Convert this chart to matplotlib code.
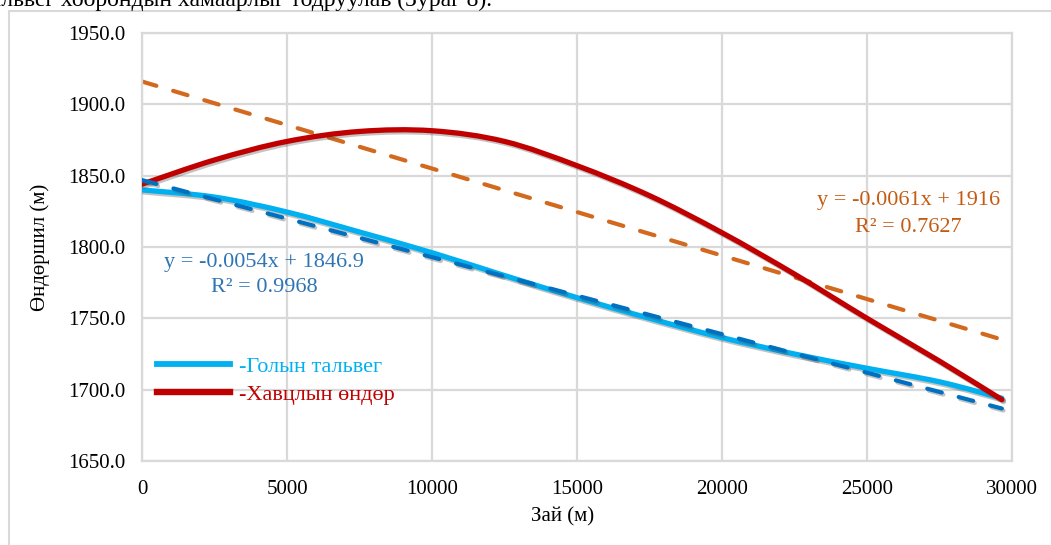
import numpy as np
import matplotlib
matplotlib.use("Agg")
import matplotlib.pyplot as plt
import matplotlib.patches as mpatches
import matplotlib.lines as mlines
import matplotlib.patheffects as pe
from matplotlib.path import Path

plt.rcParams['font.family'] = ['Liberation Serif', 'DejaVu Serif']

# distance along the river (m)
dist = [0, 2500, 5000, 7500, 10000, 12500, 15000, 17500, 20000, 22500, 25000, 27500, 29650]
# thalweg elevation (m)
thalweg = [1840, 1835, 1824.5, 1810.5, 1796, 1780, 1764.5, 1750, 1736.5, 1725, 1715, 1705.5, 1694]
# canyon rim elevation (m)
canyon = [1844, 1861, 1874, 1881, 1881.5, 1874, 1857, 1836, 1810, 1781, 1750, 1720, 1693]

# linear trend lines shown on the chart
trend_slope = {'thalweg': -0.0054, 'canyon': -0.0061}
trend_icpt = {'thalweg': 1846.9, 'canyon': 1916}
eq_text = {'thalweg': ['y = -0.0054x + 1846.9', 'R² = 0.9968'],
           'canyon': ['y = -0.0061x + 1916', 'R² = 0.7627']}

labels = ['-Голын тальвег', '-Хавцлын өндөр']
xticks = [0, 5000, 10000, 15000, 20000, 25000, 30000]
yticks = [1650, 1700, 1750, 1800, 1850, 1900, 1950]


def smooth_path(x, y):
    # Excel style "smoothed line": Catmull-Rom segments drawn as cubic Bezier curves
    p = np.column_stack([x, y]).astype(float)
    n = len(p)
    verts = [p[0]]
    codes = [Path.MOVETO]
    for i in range(n - 1):
        p0 = p[i - 1] if i > 0 else p[i]
        p3 = p[i + 2] if i + 2 < n else p[i + 1]
        c1 = p[i] + (p[i + 1] - p0) / 6.0
        c2 = p[i + 1] - (p3 - p[i]) / 6.0
        verts += [c1, c2, p[i + 1]]
        codes += [Path.CURVE4] * 3
    return Path(verts, codes)


W, H = 1051, 545
fig = plt.figure(figsize=(W / 100, H / 100), dpi=100)
ax = fig.add_axes([142 / W, 1 - 461 / H, 870 / W, 428 / H])

grid_c = '#D9D9D9'
shadow = [pe.SimpleLineShadow(offset=(1.2, -1.5), alpha=0.35, shadow_color='#555555'), pe.Normal()]

lb = '#00B0F0'
red = '#C00000'
orange = '#D2691E'
dblue = '#0070C0'

ax.add_patch(mpatches.PathPatch(smooth_path(dist, thalweg), fill=False, edgecolor=lb, lw=3.8,
                                capstyle='round', joinstyle='round', path_effects=shadow, zorder=3))
ax.add_patch(mpatches.PathPatch(smooth_path(dist, canyon), fill=False, edgecolor=red, lw=3.8,
                                capstyle='round', joinstyle='round', path_effects=shadow, zorder=4))

tx = np.array([dist[0], dist[-1]])
ax.plot(tx, trend_slope['thalweg'] * tx + trend_icpt['thalweg'], color=dblue, lw=3.0,
        dashes=(3.6, 4.2), dash_capstyle='round', path_effects=shadow, zorder=5)
ax.plot(tx, trend_slope['canyon'] * tx + trend_icpt['canyon'], color=orange, lw=3.0,
        dashes=(3.6, 4.2), dash_capstyle='round', zorder=2)

ax.set_xlim(0, 30000)
ax.set_ylim(1650, 1950)
ax.set_xticks(xticks)
ax.set_yticks(yticks)
ax.set_xticklabels([str(v) for v in xticks], fontsize=15)
ax.set_yticklabels(['%.1f' % v for v in yticks], fontsize=15)
ax.tick_params(length=0, pad=12)
ax.tick_params(axis='x', pad=14)
ax.grid(True, color=grid_c, lw=1.6)
ax.set_axisbelow(True)
for s in ax.spines.values():
    s.set_color(grid_c)
    s.set_linewidth(1.6)

ax.set_xlabel('Зай (м)', fontsize=15)
ax.xaxis.set_label_coords((563 - 142) / 870, -(507 - 461) / 428)
ax.set_ylabel('Өндөршил (м)', fontsize=15)
ax.yaxis.set_label_coords(-(142 - 50) / 870, 0.5)

# trend equations
fig.text(264 / W, 1 - 262 / H, eq_text['thalweg'][0], color='#2E75B6', fontsize=16, ha='center', va='center')
fig.text(264 / W, 1 - 288 / H, eq_text['thalweg'][1], color='#2E75B6', fontsize=16, ha='center', va='center')
fig.text(909 / W, 1 - 201 / H, eq_text['canyon'][0], color='#C55A11', fontsize=16, ha='center', va='center')
fig.text(908 / W, 1 - 227 / H, eq_text['canyon'][1], color='#C55A11', fontsize=16, ha='center', va='center')

h1 = mlines.Line2D([], [], color=lb, lw=4.2)
h2 = mlines.Line2D([], [], color=red, lw=4.6)
fig.legend(handles=[h1, h2], labels=labels, loc='upper left',
           bbox_to_anchor=(157 / W, 1 - 356 / H), bbox_transform=fig.transFigure,
           frameon=False, fontsize=16, handlelength=3.3, handletextpad=0.4,
           labelspacing=0.35, borderpad=0, borderaxespad=0, labelcolor='linecolor')

# chart area border and clipped document text above
fig.patches.append(mpatches.Rectangle((9 / W, -0.05), (W + 20) / W, 1.05 - 11 / H,
                                      transform=fig.transFigure, fill=False,
                                      edgecolor='#D9D9D9', lw=1.5))
fig.text(492 / W, 1 - 6 / H, 'тальвег хоорондын хамаарлыг тодруулав (Зураг 8).',
         fontsize=17, ha='right', va='baseline')

fig.savefig('out.png', dpi=100)
